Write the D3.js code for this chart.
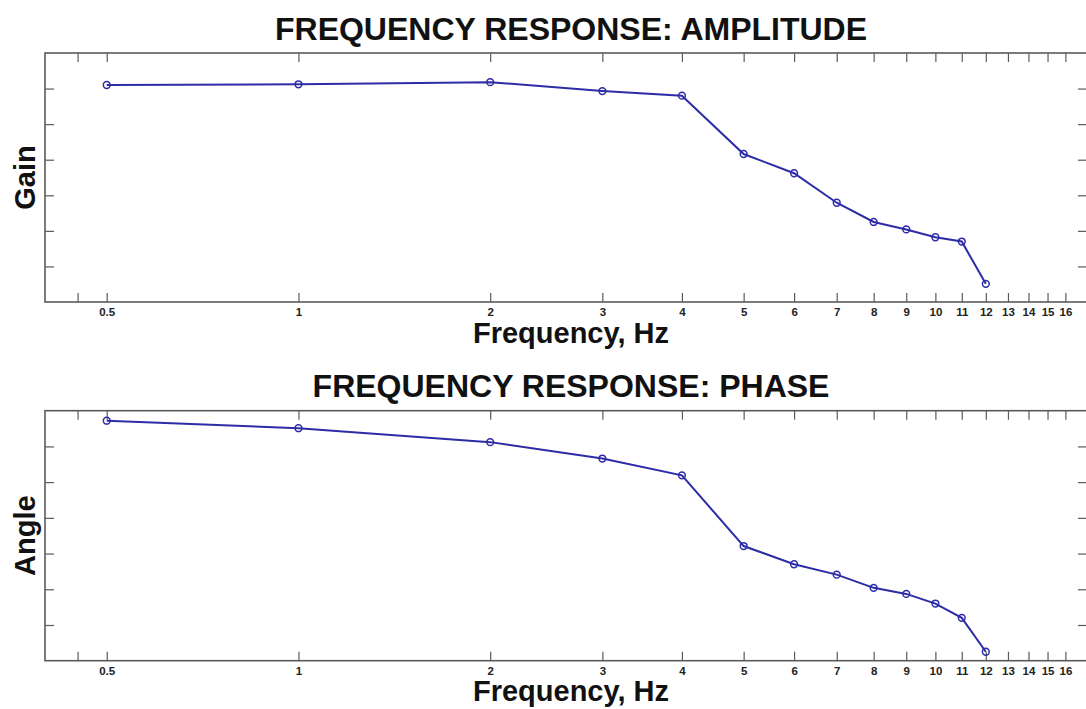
<!DOCTYPE html>
<html>
<head>
<meta charset="utf-8">
<script src="https://cdn.jsdelivr.net/npm/d3@7"></script>
<style>
  html, body { margin: 0; padding: 0; background: #fff; }
  svg { display: block; }
  .tick text { font-family: "Liberation Sans", Arial, sans-serif; font-weight: bold; font-size: 11.5px; fill: #222; }
</style>
</head>
<body>
<svg id="chart" width="1086" height="709"></svg>
<script>
// ---- data ----
const frequencies = [0.5, 1, 2, 3, 4, 5, 6, 7, 8, 9, 10, 11, 12];
const gainValues  = [6.10, 6.12, 6.18, 5.93, 5.80, 4.16, 3.62, 2.79, 2.25, 2.04, 1.82, 1.70, 0.51];
const phaseValues = [6.72, 6.51, 6.12, 5.66, 5.19, 3.21, 2.70, 2.41, 2.04, 1.87, 1.60, 1.20, 0.25];
const xTickValues = [0.45, 0.5, 1, 2, 3, 4, 5, 6, 7, 8, 9, 10, 11, 12, 13, 14, 15, 16];
const xTickLabels = ["", "0.5", "1", "2", "3", "4", "5", "6", "7", "8", "9", "10", "11", "12", "13", "14", "15", "16"];
const yTickValues = [1, 2, 3, 4, 5, 6];
const panels = [
  { title: "FREQUENCY RESPONSE: AMPLITUDE", ylabel: "Gain",  values: gainValues,  top: 53,    bottom: 302,   titleY: 40,  xlabelY: 343 },
  { title: "FREQUENCY RESPONSE: PHASE",     ylabel: "Angle", values: phaseValues, top: 410.7, bottom: 660.7, titleY: 397, xlabelY: 701 }
];

const svg = d3.select("#chart");
const left = 45, right = 1087;
const x = d3.scaleLog().domain([0.4, 17.3]).range([left, right]);
const lineColor = "#2c2ca6";
const frameColor = "#5a5a5a";
const font = "'Liberation Sans', Arial, Helvetica, sans-serif";

panels.forEach(p => {
  const y = d3.scaleLinear().domain([0, 7]).range([p.bottom, p.top]);
  const g = svg.append("g");

  // title
  g.append("text")
    .attr("x", 571).attr("y", p.titleY)
    .attr("text-anchor", "middle")
    .attr("font-family", font).attr("font-weight", "bold").attr("font-size", 32)
    .attr("fill", "#111")
    .text(p.title);

  // axes with inward ticks
  const fmt = (d) => xTickLabels[xTickValues.indexOf(d)];
  const xb = d3.axisBottom(x).tickValues(xTickValues).tickFormat(fmt).tickSizeInner(-9).tickSizeOuter(0).tickPadding(6);
  const xt = d3.axisTop(x).tickValues(xTickValues).tickFormat("").tickSizeInner(-9).tickSizeOuter(0);
  const yl = d3.axisLeft(y).tickValues(yTickValues).tickFormat("").tickSizeInner(-9).tickSizeOuter(0);
  const yr = d3.axisRight(y).tickValues(yTickValues).tickFormat("").tickSizeInner(-9).tickSizeOuter(0);

  const styleAxis = sel => {
    sel.select(".domain").remove();
    sel.selectAll(".tick line").attr("stroke", frameColor).attr("stroke-width", 1.2);
  };
  g.append("g").attr("transform", `translate(0,${p.bottom})`).call(xb).call(styleAxis);
  g.append("g").attr("transform", `translate(0,${p.top})`).call(xt).call(styleAxis);
  g.append("g").attr("transform", `translate(${left},0)`).call(yl).call(styleAxis);
  g.append("g").attr("transform", `translate(${right},0)`).call(yr).call(styleAxis);

  // frame
  g.append("rect")
    .attr("x", left).attr("y", p.top)
    .attr("width", right - left).attr("height", p.bottom - p.top)
    .attr("fill", "none").attr("stroke", frameColor).attr("stroke-width", 1.6);

  // x label
  g.append("text")
    .attr("x", 571).attr("y", p.xlabelY)
    .attr("text-anchor", "middle")
    .attr("font-family", font).attr("font-weight", "bold").attr("font-size", 29)
    .attr("fill", "#111")
    .text("Frequency, Hz");

  // y label
  const cy = (p.top + p.bottom) / 2;
  g.append("text")
    .attr("transform", `translate(35,${cy}) rotate(-90)`)
    .attr("text-anchor", "middle")
    .attr("font-family", font).attr("font-weight", "bold").attr("font-size", 29)
    .attr("fill", "#111")
    .text(p.ylabel);

  // line
  const data = frequencies.map((f, i) => ({ f, v: p.values[i] }));
  g.append("path")
    .datum(data)
    .attr("fill", "none")
    .attr("stroke", lineColor)
    .attr("stroke-width", 2)
    .attr("d", d3.line().x(d => x(d.f)).y(d => y(d.v)));

  g.selectAll("circle.pt")
    .data(data)
    .join("circle")
    .attr("class", "pt")
    .attr("cx", d => x(d.f)).attr("cy", d => y(d.v))
    .attr("r", 3.4)
    .attr("fill", "none")
    .attr("stroke", lineColor)
    .attr("stroke-width", 1.5);
});
</script>
</body>
</html>
